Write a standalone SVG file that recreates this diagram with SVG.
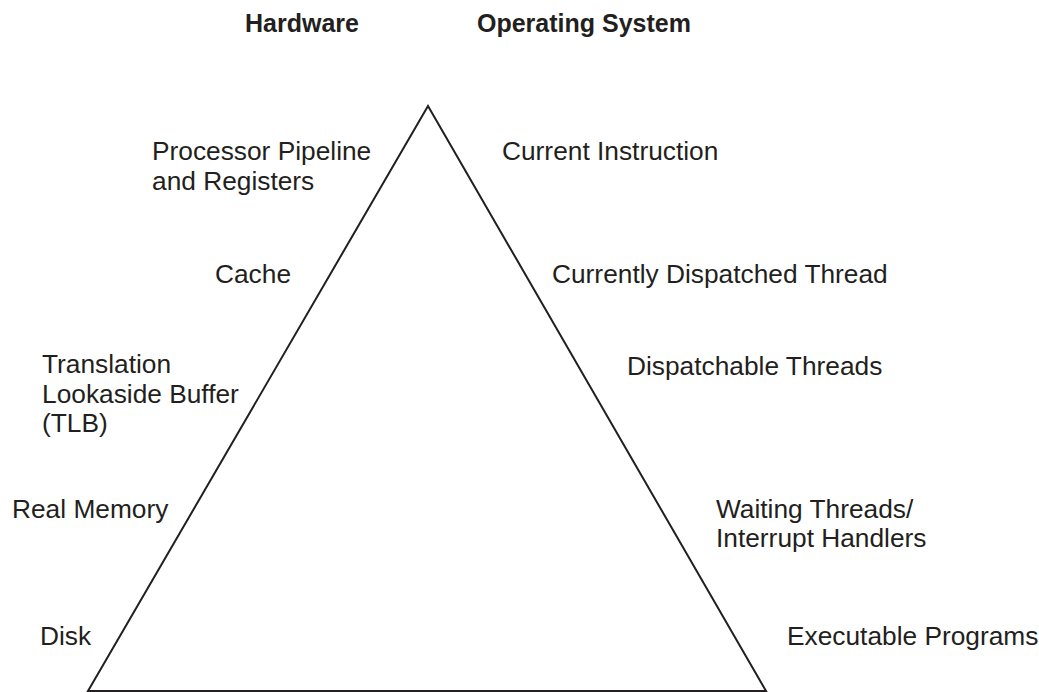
<svg xmlns="http://www.w3.org/2000/svg" width="1039" height="692" viewBox="0 0 1039 692">
<style>
text{font-family:"Liberation Sans",Arial,sans-serif;fill:#231f20;font-size:26.3px}
.h{font-weight:bold;font-size:25px}
.tri{fill:none;stroke:#231f20;stroke-width:2;stroke-linejoin:miter}
</style>
<rect width="1039" height="692" fill="#fff"/>
<g id="pyramid"><path class="tri" d="M88,691 L428,106 L766,691 Z"/></g>
<g id="headers">
<text class="h" x="245" y="32">Hardware</text>
<text class="h" x="477" y="32">Operating System</text>
</g>
<g id="hardware">
<g id="processor"><text x="152" y="160">Processor Pipeline</text><text x="152" y="190">and Registers</text></g>
<g id="cache"><text x="215" y="283">Cache</text></g>
<g id="tlb"><text x="42" y="373">Translation</text><text x="42" y="403">Lookaside Buffer</text><text x="42" y="432">(TLB)</text></g>
<g id="real-memory"><text x="12" y="518">Real Memory</text></g>
<g id="disk"><text x="40" y="645">Disk</text></g>
</g>
<g id="os">
<g id="current-instruction"><text x="502" y="160">Current Instruction</text></g>
<g id="current-thread"><text x="552" y="283">Currently Dispatched Thread</text></g>
<g id="dispatchable"><text x="627" y="375">Dispatchable Threads</text></g>
<g id="waiting"><text x="716" y="518">Waiting Threads/</text><text x="716" y="547">Interrupt Handlers</text></g>
<g id="executable"><text x="787" y="645">Executable Programs</text></g>
</g>
<g id="connectors"></g>
</svg>
